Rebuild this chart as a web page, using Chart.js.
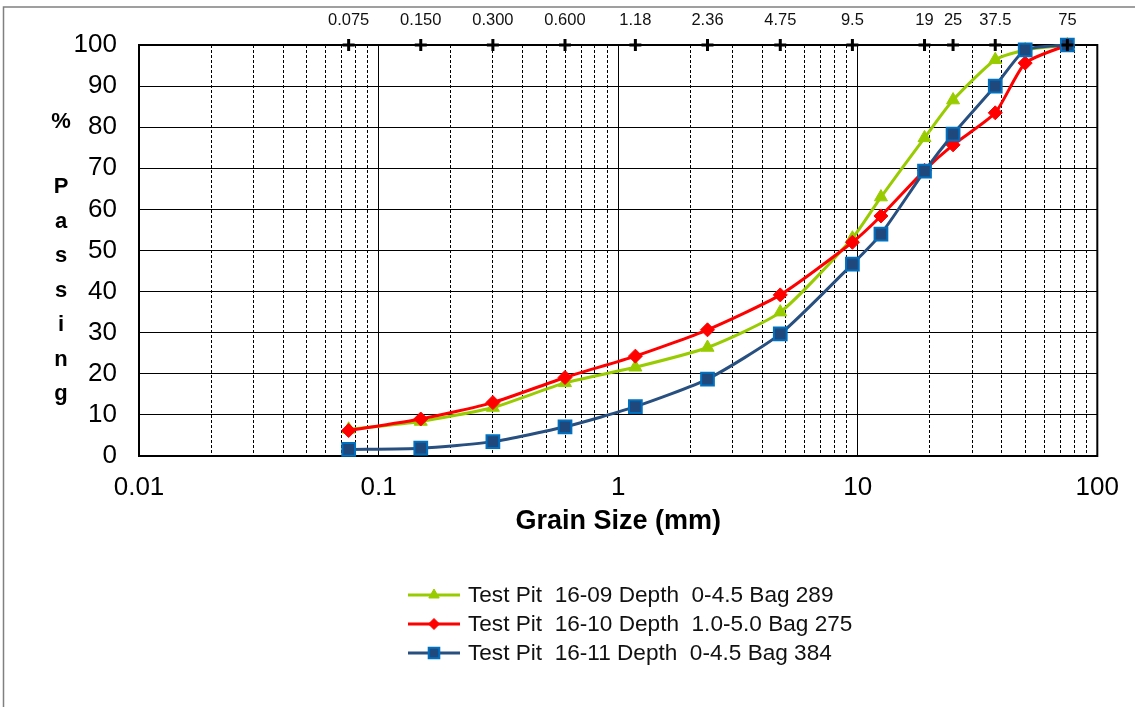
<!DOCTYPE html>
<html>
<head>
<meta charset="utf-8">
<script src="https://cdn.jsdelivr.net/npm/chart.js@4.4.1/dist/chart.umd.min.js"></script>
<style>
  html, body { margin: 0; background: #fff; }
  #wrap { width: 1135px; height: 707px; position: relative; }
</style>
</head>
<body>
<div id="wrap"><canvas id="grading"></canvas></div>
<script>
// sieve sizes (mm) the samples were tested on
const sieveSizes = [0.075, 0.15, 0.3, 0.6, 1.18, 2.36, 4.75, 9.5, 12.5, 19, 25, 37.5, 50, 75];

// % passing per test pit
const pit1609 = [6.5, 8.4, 11.8, 17.8, 21.6, 26.4, 35.0, 53.0, 63.0, 77.4, 86.6, 96.4, 98.8, 100];
const pit1610 = [6.2, 9.0, 13.0, 19.1, 24.3, 30.7, 39.2, 52.0, 58.4, 69.5, 75.7, 83.5, 95.6, 100];
const pit1611 = [1.6, 1.9, 3.5, 7.1, 12.0, 18.7, 29.7, 46.7, 54.0, 69.3, 78.3, 90.0, 98.8, 100];

const seriesNames = [
  'Test Pit  16-09 Depth  0-4.5 Bag 289',
  'Test Pit  16-10 Depth  1.0-5.0 Bag 275',
  'Test Pit  16-11 Depth  0-4.5 Bag 384',
];

// sieve marks along the top of the plot
const topSieves = [0.075, 0.15, 0.3, 0.6, 1.18, 2.36, 4.75, 9.5, 19, 25, 37.5, 75];
const topLabels = ['0.075', '0.150', '0.300', '0.600', '1.18', '2.36', '4.75', '9.5', '19', '25', '37.5', '75'];

// log grid: 1..9 in every decade
const decades = [0.01, 0.1, 1, 10];
const gridSizes = decades.flatMap(d => [1, 2, 3, 4, 5, 6, 7, 8, 9].map(k => Number((d * k).toPrecision(3)))).concat([100]);
const isDecade = v => Math.abs(Math.log10(v) - Math.round(Math.log10(v))) < 1e-9;

const yTitle = ['%', 'P', 'a', 's', 's', 'i', 'n', 'g'];

const FONT = '"Liberation Sans", Arial, sans-serif';
const GREEN = '#99CC00';
const RED = '#FF0000';
const NAVY = '#274F80';

const pts = vals => sieveSizes.map((x, i) => ({ x, y: vals[i] }));

function legendMarker(ctx, ds, x, y) {
  ctx.save();
  ctx.fillStyle = ds.pointBackgroundColor;
  ctx.strokeStyle = ds.pointBorderColor;
  ctx.lineWidth = ds.pointBorderWidth;
  Chart.helpers.drawPoint(ctx, {
    pointStyle: ds.pointStyle,
    radius: ds.legendRadius,
    rotation: 0,
    borderWidth: ds.pointBorderWidth,
  }, x, y);
  ctx.restore();
}

const decor = {
  id: 'decor',
  beforeDraw(chart) {
    const { ctx, width, height } = chart;
    ctx.save();
    ctx.fillStyle = '#fff';
    ctx.fillRect(0, 0, width, height);
    ctx.strokeStyle = '#808080';
    ctx.lineWidth = 1.5;
    ctx.beginPath();
    ctx.moveTo(3.5, height);
    ctx.lineTo(3.5, 7);
    ctx.lineTo(width, 7);
    ctx.stroke();
    ctx.restore();
  },
  beforeDatasetsDraw(chart) {
    const { ctx, chartArea: a } = chart;
    ctx.save();
    ctx.strokeStyle = '#000';
    ctx.lineWidth = 2;
    ctx.strokeRect(a.left, a.top, a.width, a.height);
    ctx.restore();
  },
  afterDatasetsDraw(chart) {
    const { ctx, chartArea: a } = chart;
    const s = chart.scales.x2;
    ctx.save();
    ctx.strokeStyle = '#000';
    ctx.lineWidth = 3;
    s.ticks.forEach(t => {
      const x = s.getPixelForValue(t.value);
      ctx.beginPath();
      ctx.moveTo(x - 6, a.top); ctx.lineTo(x + 6, a.top);
      ctx.moveTo(x, a.top - 6); ctx.lineTo(x, a.top + 6);
      ctx.stroke();
    });
    ctx.restore();
  },
  afterDraw(chart) {
    const { ctx } = chart;
    ctx.save();
    // stacked y-axis title
    ctx.fillStyle = '#000';
    ctx.font = 'bold 22px ' + FONT;
    ctx.textAlign = 'center';
    ctx.textBaseline = 'middle';
    ctx.fillText(yTitle[0], 61, 122);
    yTitle.slice(1).forEach((ch, i) => ctx.fillText(ch, 61, 187 + i * 34.5));

    // legend, one entry per row
    ctx.font = '22.6px ' + FONT;
    ctx.textAlign = 'left';
    chart.data.datasets.forEach((ds, i) => {
      const y = 595 + i * 29;
      ctx.strokeStyle = ds.borderColor;
      ctx.lineWidth = 3;
      ctx.beginPath();
      ctx.moveTo(408, y); ctx.lineTo(460, y);
      ctx.stroke();
      legendMarker(ctx, ds, 434, y);
      ctx.fillStyle = '#111';
      ctx.fillText(ds.label, 468, y + 1);
    });
    ctx.restore();
  }
};

new Chart(document.getElementById('grading'), {
  type: 'line',
  data: {
    datasets: [
      {
        label: seriesNames[0], data: pts(pit1609), order: 2,
        borderColor: GREEN, borderWidth: 3, tension: 0.2,
        pointStyle: 'triangle', pointRadius: 7.5, legendRadius: 6,
        pointBackgroundColor: GREEN, pointBorderColor: GREEN, pointBorderWidth: 1,
        clip: false,
      },
      {
        label: seriesNames[1], data: pts(pit1610), order: 1,
        borderColor: RED, borderWidth: 3, tension: 0.2,
        pointStyle: 'rectRot', pointRadius: 7, legendRadius: 5.5,
        pointBackgroundColor: RED, pointBorderColor: RED, pointBorderWidth: 1,
        clip: false,
      },
      {
        label: seriesNames[2], data: pts(pit1611), order: 0,
        borderColor: NAVY, borderWidth: 3, tension: 0.2,
        pointStyle: 'rect', pointRadius: 9, legendRadius: 7.5,
        pointBackgroundColor: '#1F497D', pointBorderColor: '#0070C0', pointBorderWidth: 2,
        clip: false,
      },
    ],
  },
  options: {
    responsive: true,
    maintainAspectRatio: false,
    animation: false,
    events: [],
    layout: { padding: { top: 0, left: 0, right: 36, bottom: 0 } },
    plugins: { legend: { display: false }, tooltip: { enabled: false } },
    scales: {
      x: {
        type: 'logarithmic', position: 'bottom', min: 0.01, max: 100,
        afterBuildTicks: s => { s.ticks = gridSizes.map(v => ({ value: v })); },
        afterFit: s => { s.height = 251; },
        ticks: {
          autoSkip: false, maxRotation: 0, padding: 16,
          color: '#000', font: { family: FONT, size: 26 },
          callback: v => isDecade(v) ? String(v) : '',
        },
        grid: { color: '#000', lineWidth: 1, drawTicks: false },
        border: {
          display: true, color: '#000', width: 2,
          dash: c => (c.tick && !isDecade(c.tick.value)) ? [3, 2] : [],
        },
        title: {
          display: true, text: 'Grain Size (mm)', color: '#000',
          font: { family: FONT, size: 27, weight: 'bold' },
          padding: { top: 0, bottom: 169 },
        },
      },
      x2: {
        type: 'logarithmic', position: 'top', min: 0.01, max: 100,
        afterBuildTicks: s => { s.ticks = topSieves.map(v => ({ value: v })); },
        afterFit: s => { s.height = 45; },
        ticks: {
          autoSkip: false, maxRotation: 0, padding: 15,
          color: '#111', font: { family: FONT, size: 16.5 },
          callback: (v, i) => topLabels[i],
        },
        grid: { display: false, drawTicks: false },
        border: { display: false },
      },
      y: {
        min: 0, max: 100,
        afterFit: s => { s.width = 139; },
        ticks: {
          stepSize: 10, padding: 22,
          color: '#000', font: { family: FONT, size: 26 },
        },
        grid: { color: '#000', lineWidth: 1, drawTicks: false },
        border: { display: true, color: '#000', width: 2 },
      },
    },
  },
  plugins: [decor],
});
</script>
</body>
</html>
